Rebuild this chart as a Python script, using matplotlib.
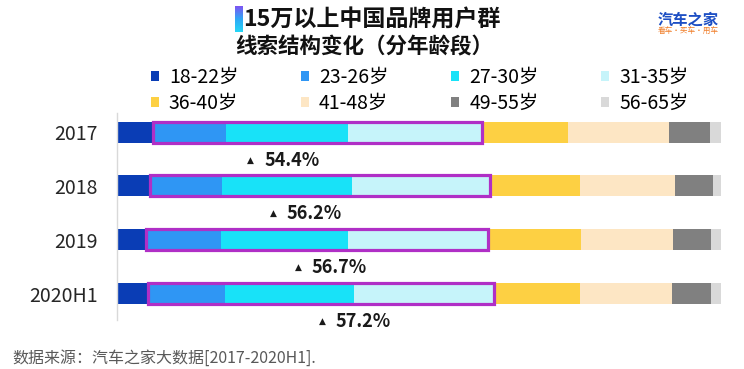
import matplotlib
matplotlib.use("Agg")
import matplotlib.pyplot as plt
import numpy as np
from matplotlib.patches import Patch
from matplotlib.colors import LinearSegmentedColormap

plt.rcParams['font.family'] = ['Noto Sans CJK SC', 'DejaVu Sans']

# ---------------- data ----------------
years = ["2017", "2018", "2019", "2020H1"]
age_groups = ["18-22岁", "23-26岁", "27-30岁", "31-35岁",
              "36-40岁", "41-48岁", "49-55岁", "56-65岁"]
age_18_22 = [6.0, 5.5, 4.8, 5.2]
age_23_26 = [12.0, 11.9, 12.4, 12.7]
age_27_30 = [20.3, 21.5, 21.0, 21.4]
age_31_35 = [22.1, 22.8, 23.3, 23.1]
age_36_40 = [14.2, 15.0, 15.3, 14.3]
age_41_48 = [16.8, 15.7, 15.2, 15.2]
age_49_55 = [6.8, 6.2, 6.4, 6.5]
age_56_65 = [1.8, 1.4, 1.6, 1.6]
share_23_35 = [54.4, 56.2, 56.7, 57.2]

series = [age_18_22, age_23_26, age_27_30, age_31_35,
          age_36_40, age_41_48, age_49_55, age_56_65]
colors = ["#0a3db5", "#2f96f4", "#18e2f8", "#c6f4fa",
          "#fdd043", "#fde6c4", "#808080", "#d9d9d9"]
box_color = "#b02fc6"

# label positions (x in axis % units)
tri_x = [22.1, 25.9, 30.1, 34.0]
lab_x = [24.4, 28.1, 32.2, 36.1]

W, H = 744, 369
fig = plt.figure(figsize=(W / 100, H / 100), dpi=100)
fig.patch.set_facecolor("white")

ax = fig.add_axes([117 / W, 1 - 320 / H, (721 - 117) / W, (320 - 113) / H])
y = np.arange(len(years))
left = np.zeros(len(years))
bar_h = 0.39
for vals, c, lab in zip(series, colors, age_groups):
    ax.barh(y, vals, left=left, height=bar_h, color=c, label=lab, zorder=2)
    left = left + np.array(vals)

# highlight box over 23-35
box_left = np.array(age_18_22)
box_w = np.array(age_23_26) + np.array(age_27_30) + np.array(age_31_35)
ax.barh(y, box_w, left=box_left, height=bar_h, fill=False,
        edgecolor=box_color, linewidth=2.3, zorder=3)

for i, v in enumerate(share_23_35):
    ax.text(tri_x[i], y[i] + 0.52, "▲", fontsize=6.5, ha="center", va="center",
            color="#1a1a1a", family=['DejaVu Sans'])
    ax.text(lab_x[i], y[i] + 0.52, f"{v:.1f}%", fontsize=13, fontweight="bold",
            ha="left", va="center", color="#1a1a1a")

ax.set_xlim(0, 100)
ax.set_ylim(3.49, -0.353)
ax.set_yticks(y)
ax.set_yticklabels(years, fontsize=14, color="#262626")
ax.tick_params(axis="y", length=0, pad=14)
ax.set_xticks([])
for s in ["top", "right", "bottom"]:
    ax.spines[s].set_visible(False)
ax.spines["left"].set_color("#d9d9d9")
ax.spines["left"].set_linewidth(1)

# legend (row-wise order)
handles = [Patch(facecolor=c, edgecolor="none") for c in colors]
order = [0, 4, 1, 5, 2, 6, 3, 7]
fig.legend([handles[k] for k in order], [age_groups[k] for k in order],
           ncol=4, loc="upper left", bbox_to_anchor=(151 / W, 1 - 67 / H),
           frameon=False, fontsize=14, handlelength=0.42, handleheight=0.42,
           handletextpad=0.5, columnspacing=3.22, labelspacing=0.25,
           borderpad=0, borderaxespad=0)

# title
fig.text(372 / W, 1 - 20 / H, "15万以上中国品牌用户群", fontsize=16.6,
         fontweight="bold", ha="center", va="center", color="#111111")
fig.text(364 / W, 1 - 47 / H, "线索结构变化（分年龄段）", fontsize=15.5,
         fontweight="bold", ha="center", va="center", color="#111111")
gax = fig.add_axes([235 / W, 1 - 32 / H, 8 / W, 26 / H])
cmap = LinearSegmentedColormap.from_list("g", ["#7d55f2", "#2fa8f6", "#25d6f6"])
gax.imshow(np.linspace(0, 1, 50).reshape(-1, 1), aspect="auto", cmap=cmap)
gax.axis("off")

# logo
fig.text(688 / W, 1 - 20 / H, "汽车之家", fontsize=11, fontweight="bold",
         ha="center", va="center", color="#1d4fc4")
fig.text(688 / W, 1 - 32 / H, "看车·买车·用车", fontsize=5.5,
         ha="center", va="center", color="#f07d28")

# source
fig.text(12 / W, 2 / H, "数据来源：汽车之家大数据[2017-2020H1].", fontsize=11.5,
         ha="left", va="bottom", color="#595959")

fig.savefig("out.png", dpi=100, facecolor="white")
